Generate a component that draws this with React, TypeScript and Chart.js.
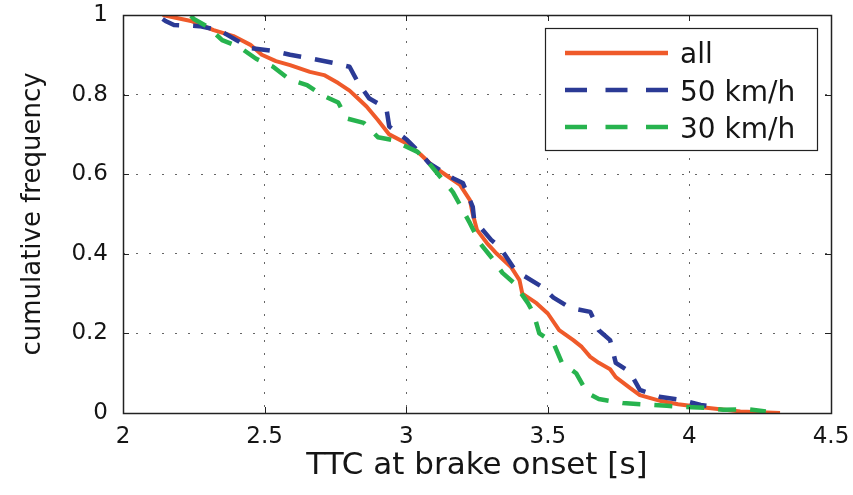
import React, { useEffect, useRef } from "react";
import { Chart, registerables } from "chart.js";

Chart.register(...registerables);

// ---- data ----
const xTicks = [2, 2.5, 3, 3.5, 4, 4.5];
const yTicks = [0, 0.2, 0.4, 0.6, 0.8, 1];
const seriesNames = ["all", "50 km/h", "30 km/h"];

const allTTC = [2.14, 2.24, 2.32, 2.39, 2.45, 2.49, 2.54, 2.59, 2.66, 2.71, 2.76, 2.8, 2.83, 2.86, 2.9, 2.94, 3.0, 3.05, 3.09, 3.14, 3.19, 3.225, 3.235, 3.25, 3.285, 3.32, 3.37, 3.4, 3.41, 3.46, 3.5, 3.54, 3.59, 3.62, 3.65, 3.68, 3.72, 3.74, 3.79, 3.825, 3.9, 3.96, 4.06, 4.18, 4.32];
const allFreq = [1.0, 0.985, 0.962, 0.947, 0.925, 0.9, 0.884, 0.874, 0.857, 0.849, 0.829, 0.81, 0.79, 0.77, 0.736, 0.7, 0.678, 0.65, 0.623, 0.598, 0.573, 0.535, 0.5, 0.46, 0.427, 0.4, 0.367, 0.334, 0.3, 0.276, 0.25, 0.208, 0.183, 0.166, 0.141, 0.126, 0.11, 0.09, 0.063, 0.045, 0.03, 0.022, 0.013, 0.004, 0.0];

const kmh50TTC = [2.14, 2.15, 2.18, 2.27, 2.34, 2.4, 2.45, 2.53, 2.59, 2.67, 2.74, 2.8, 2.83, 2.87, 2.93, 2.94, 3.0, 3.05, 3.08, 3.165, 3.2, 3.235, 3.24, 3.3, 3.33, 3.38, 3.41, 3.48, 3.52, 3.58, 3.65, 3.68, 3.72, 3.74, 3.79, 3.825, 3.9, 3.97, 4.04, 4.06];
const kmh50Freq = [0.99, 0.985, 0.975, 0.972, 0.962, 0.937, 0.917, 0.91, 0.9, 0.89, 0.88, 0.87, 0.83, 0.79, 0.766, 0.72, 0.688, 0.653, 0.628, 0.59, 0.578, 0.518, 0.485, 0.435, 0.417, 0.364, 0.347, 0.317, 0.29, 0.264, 0.254, 0.208, 0.183, 0.126, 0.103, 0.058, 0.04, 0.033, 0.02, 0.018];

const kmh30TTC = [2.24, 2.25, 2.3, 2.35, 2.41, 2.47, 2.53, 2.59, 2.65, 2.7, 2.76, 2.79, 2.85, 2.9, 2.95, 3.04, 3.08, 3.13, 3.165, 3.2, 3.225, 3.26, 3.3, 3.34, 3.38, 3.43, 3.45, 3.47, 3.52, 3.55, 3.6, 3.64, 3.68, 3.765, 3.92, 3.98, 4.06, 4.12, 4.21, 4.27];
const kmh30Freq = [0.998, 0.99, 0.97, 0.937, 0.92, 0.89, 0.87, 0.837, 0.824, 0.8, 0.78, 0.74, 0.729, 0.693, 0.686, 0.656, 0.628, 0.585, 0.555, 0.51, 0.477, 0.427, 0.392, 0.352, 0.327, 0.276, 0.25, 0.2, 0.176, 0.126, 0.1, 0.05, 0.035, 0.025, 0.018, 0.015, 0.013, 0.008, 0.009, 0.004];

const colors = ["#ef5a2a", "#2b3a95", "#27b34e"];
const dashes: number[][] = [[], [18, 14], [18, 14]];
const legendDashes: number[][] = [[], [22, 18.5], [22, 18.5]];

const FONT = "'DejaVu Sans', sans-serif";

const toPoints = (xs: number[], ys: number[]) => xs.map((x, i) => ({ x, y: ys[i] }));

const framePlugin = {
  id: "frame",
  afterDatasetsDraw(chart: any) {
    const { ctx, chartArea, scales } = chart;
    const { left, right, top, bottom } = chartArea;
    const xs = scales.x;
    const ys = scales.y;
    ctx.save();
    ctx.strokeStyle = "#222";
    ctx.lineWidth = 1;
    ctx.setLineDash([]);
    ctx.beginPath();
    xTicks.forEach((v) => {
      const px = Math.round(xs.getPixelForValue(v)) + 0.5;
      ctx.moveTo(px, bottom);
      ctx.lineTo(px, bottom - 6);
      ctx.moveTo(px, top);
      ctx.lineTo(px, top + 6);
    });
    yTicks.forEach((v) => {
      const py = Math.round(ys.getPixelForValue(v)) + 0.5;
      ctx.moveTo(left, py);
      ctx.lineTo(left + 6, py);
      ctx.moveTo(right, py);
      ctx.lineTo(right - 6, py);
    });
    ctx.stroke();
    ctx.lineWidth = 1.5;
    ctx.strokeRect(Math.round(left) + 0.5, Math.round(top) + 0.5, Math.round(right - left), Math.round(bottom - top));
    ctx.restore();
  },
};

const legendPlugin = {
  id: "boxLegend",
  afterDraw(chart: any) {
    const { ctx } = chart;
    ctx.save();
    const bx = 545, by = 28, bw = 272, bh = 122;
    ctx.fillStyle = "#ffffff";
    ctx.fillRect(bx, by, bw, bh);
    ctx.strokeStyle = "#222";
    ctx.lineWidth = 1.2;
    ctx.strokeRect(bx + 0.5, by + 0.5, bw, bh);
    const lineY = [53, 90, 127];
    const textY = [63, 101, 138];
    seriesNames.forEach((name, i) => {
      ctx.beginPath();
      ctx.setLineDash(legendDashes[i]);
      ctx.lineCap = "butt";
      ctx.strokeStyle = colors[i];
      ctx.lineWidth = 4.5;
      ctx.moveTo(565, lineY[i]);
      ctx.lineTo(668, lineY[i]);
      ctx.stroke();
      ctx.setLineDash([]);
      ctx.fillStyle = "#151515";
      ctx.font = `28px ${FONT}`;
      ctx.textAlign = "left";
      ctx.textBaseline = "alphabetic";
      ctx.fillText(name, 680, textY[i]);
    });
    ctx.restore();
  },
};

export default function App() {
  const canvasRef = useRef<HTMLCanvasElement | null>(null);

  useEffect(() => {
    if (!canvasRef.current) return;
    const series = [
      toPoints(allTTC, allFreq),
      toPoints(kmh50TTC, kmh50Freq),
      toPoints(kmh30TTC, kmh30Freq),
    ];
    const chart = new Chart(canvasRef.current, {
      type: "line",
      data: {
        datasets: series.map((pts, i) => ({
          label: seriesNames[i],
          data: pts,
          borderColor: colors[i],
          backgroundColor: colors[i],
          borderWidth: i === 0 ? 4 : 4.5,
          borderDash: dashes[i],
          borderCapStyle: "butt",
          borderJoinStyle: "round",
          pointRadius: 0,
          tension: 0,
          fill: false,
          order: 3 - i,
        })),
      },
      options: {
        animation: false,
        responsive: false,
        layout: { padding: { top: 15, right: 22, left: 0, bottom: 0 } },
        plugins: {
          legend: { display: false },
          tooltip: { enabled: false },
        },
        scales: {
          x: {
            type: "linear",
            min: 2,
            max: 4.5,
            afterBuildTicks: (scale: any) => {
              scale.ticks = xTicks.map((v) => ({ value: v }));
            },
            afterFit: (scale: any) => {
              scale.height = 82;
              scale.paddingLeft = 0;
              scale.paddingRight = 0;
            },
            ticks: {
              color: "#151515",
              font: { family: FONT, size: 23 },
              padding: 10,
              maxRotation: 0,
              autoSkip: false,
              callback: (v: any) => String(v),
            },
            grid: { color: "#666", lineWidth: 1, drawTicks: false },
            border: { display: false, dash: [2, 11] },
            title: {
              display: true,
              text: "TTC at brake onset [s]",
              color: "#151515",
              font: { family: FONT, size: 31 },
              padding: { top: 0, bottom: 10 },
            },
          },
          y: {
            type: "linear",
            min: 0,
            max: 1,
            afterBuildTicks: (scale: any) => {
              scale.ticks = yTicks.map((v) => ({ value: v }));
            },
            afterFit: (scale: any) => {
              scale.width = 123;
              scale.paddingTop = 0;
              scale.paddingBottom = 0;
            },
            ticks: {
              color: "#151515",
              font: { family: FONT, size: 23 },
              padding: 15,
              autoSkip: false,
              callback: (v: any) => String(v),
            },
            grid: { color: "#666", lineWidth: 1, drawTicks: false },
            border: { display: false, dash: [2, 11] },
            title: {
              display: true,
              text: "cumulative frequency",
              color: "#151515",
              font: { family: FONT, size: 26 },
              padding: { top: 18, bottom: 0 },
            },
          },
        },
      },
      plugins: [framePlugin, legendPlugin],
    } as any);
    return () => chart.destroy();
  }, []);

  return (
    <div style={{ position: "absolute", left: 0, top: 0, width: 853, height: 495, background: "#fff" }}>
      <canvas ref={canvasRef} width={853} height={495} style={{ display: "block" }} />
    </div>
  );
}
